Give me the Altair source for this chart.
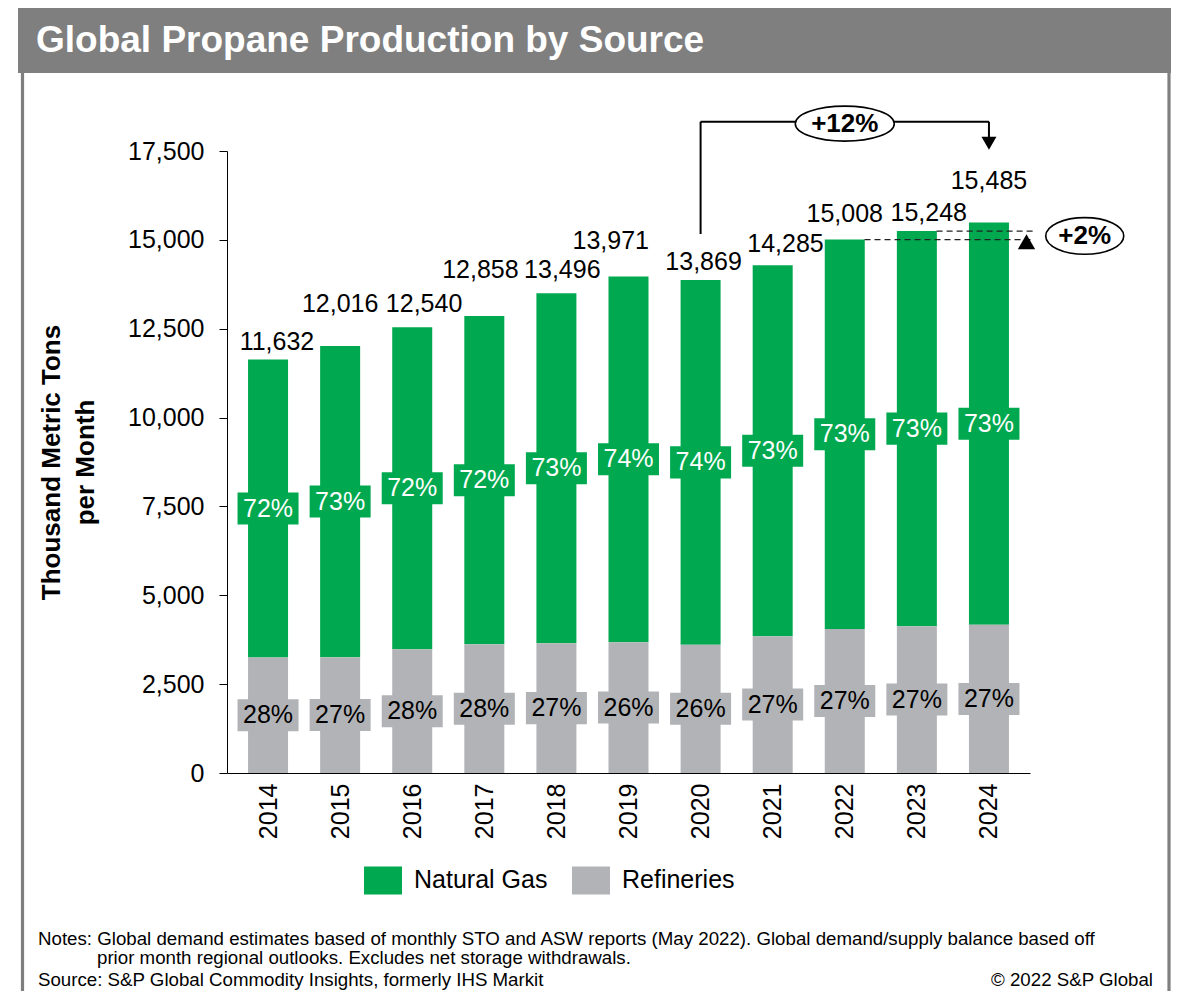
import altair as alt
import pandas as pd

# ---------------- data ----------------
years = [2014, 2015, 2016, 2017, 2018, 2019, 2020, 2021, 2022, 2023, 2024]
totals = [11632, 12016, 12540, 12858, 13496, 13971, 13869, 14285, 15008, 15248, 15485]
refineries = [3250, 3260, 3480, 3620, 3650, 3680, 3610, 3850, 4050, 4130, 4170]
natural_gas = [8382, 8756, 9060, 9238, 9846, 10291, 10259, 10435, 10958, 11118, 11315]
ng_pct = ["72%", "73%", "72%", "72%", "73%", "74%", "74%", "73%", "73%", "73%", "73%"]
ref_pct = ["28%", "27%", "28%", "28%", "27%", "26%", "26%", "27%", "27%", "27%", "27%"]
sources = ["Natural Gas", "Refineries"]
y_ticks = [0, 2500, 5000, 7500, 10000, 12500, 15000, 17500]

# ---------------- layout / style ----------------
FONT = "Liberation Sans"
GREEN = "#00A94F"
GRAY = "#B2B3B6"
FRAME = "#7F7F7F"
W, H = 803, 622
X_DOM = [2013.5, 2024.5]
Y_MAX = 17500
PX_PER_YEAR = W / (X_DOM[1] - X_DOM[0])
UNITS_PER_PX = Y_MAX / H

# manual nudges of the total labels (pixels: right shift, raise above bar top)
label_dx_px = [9, 0, 12, -4, 6, -18, 3, 13, 0, 12, 0]
label_raise_px = [10, 34, 15, 38, 15, 27, 10, 13, 18, 10, 34]

# ---------------- tables ----------------
long_rows = []
seg_rows = []
for i, yr in enumerate(years):
    long_rows.append({"year": yr, "source": "Natural Gas", "value": natural_gas[i]})
    long_rows.append({"year": yr, "source": "Refineries", "value": refineries[i]})
    seg_rows.append({"year": yr, "source": "Refineries", "mid": refineries[i] / 2, "txt": ref_pct[i]})
    seg_rows.append({"year": yr, "source": "Natural Gas", "mid": refineries[i] + natural_gas[i] / 2, "txt": ng_pct[i]})
long_df = pd.DataFrame(long_rows)
seg_df = pd.DataFrame(seg_rows)

tot_df = pd.DataFrame({
    "year": years,
    "total": totals,
    "lbl": [f"{t:,}" for t in totals],
    "lx": [y + dx / PX_PER_YEAR for y, dx in zip(years, label_dx_px)],
    "ly": [t + r * UNITS_PER_PX for t, r in zip(totals, label_raise_px)],
})

xs = alt.Scale(domain=X_DOM, nice=False, zero=False)
ys = alt.Scale(domain=[0, Y_MAX], nice=False, zero=True)
col_scale = alt.Scale(domain=sources, range=[GREEN, GRAY])

x_axis = alt.Axis(values=years, labelExpr="format(datum.value, 'd')", labelAngle=270,
                  labelAlign="right", labelBaseline="middle", ticks=False, labelPadding=10,
                  labelFontSize=25, labelColor="black", domainColor="black", domainWidth=1,
                  grid=False, title="", labelFont=FONT)
y_axis = alt.Axis(values=y_ticks, labelExpr="format(datum.value, ',.0f')", tickSize=8,
                  tickColor="black", tickWidth=1, domainColor="black", domainWidth=1,
                  grid=False, labelFontSize=25, labelColor="black", labelPadding=15,
                  labelFont=FONT, title=["Thousand Metric Tons", "per Month"],
                  titleFontSize=26, titleFontWeight="bold", titleColor="black",
                  titleFont=FONT, titleLineHeight=34, titlePadding=29)


def X(field):
    return alt.X(field, scale=xs, axis=x_axis)


def Y(field, **kw):
    return alt.Y(field, scale=ys, axis=y_axis, **kw)


bars = alt.Chart(long_df).mark_bar(size=40).encode(
    x=X("year:Q"),
    y=Y("value:Q", stack="zero"),
    color=alt.Color("source:N", scale=col_scale, legend=alt.Legend(
        orient="none", legendX=137, legendY=710, direction="horizontal", title=None,
        symbolType="M-1,-0.737L1,-0.737L1,0.737L-1,0.737Z", symbolSize=1444,
        symbolStrokeWidth=0, symbolOpacity=1, labelFontSize=25, labelColor="black",
        labelFont=FONT, labelOffset=12, columnPadding=24, padding=0)),
    order=alt.Order("source:N", sort="descending"),
)

BOX = "M-1,-0.525L1,-0.525L1,0.525L-1,0.525Z"
boxes = alt.Chart(seg_df).mark_point(shape=BOX, size=3721, filled=True, opacity=1,
                                     strokeWidth=0).encode(
    x=X("year:Q"),
    y=Y("mid:Q"),
    color=alt.Color("source:N", scale=col_scale, legend=None),
)
seg_text = alt.Chart(seg_df).mark_text(fontSize=25, font=FONT, baseline="middle",
                                       align="center").encode(
    x=X("year:Q"),
    y=Y("mid:Q"),
    text="txt:N",
    color=alt.condition(alt.datum.source == "Natural Gas", alt.value("white"), alt.value("black")),
)

tot_text = alt.Chart(tot_df).mark_text(fontSize=25, font=FONT, baseline="alphabetic",
                                       align="center", color="black").encode(
    x=X("lx:Q"),
    y=Y("ly:Q"),
    text="lbl:N",
)

# ---------------- annotations (data coordinates) ----------------
BRACKET_LOW = 15165
BRACKET_TOP = 18324
ARROW_BASE = 17866
bracket_df = pd.DataFrame({
    "x": [2020, 2020, 2024], "x2": [2020, 2024, 2024],
    "y": [BRACKET_LOW, BRACKET_TOP, BRACKET_TOP], "y2": [BRACKET_TOP, BRACKET_TOP, ARROW_BASE],
})
bracket = alt.Chart(bracket_df).mark_rule(strokeWidth=2, color="black").encode(
    x=X("x:Q"), x2="x2:Q",
    y=Y("y:Q"), y2="y2:Q",
)
dash_df = pd.DataFrame({
    "x": [2023 + 20 / PX_PER_YEAR, 2022 + 20 / PX_PER_YEAR],
    "x2": [2024 + 46 / PX_PER_YEAR, 2024 + 46 / PX_PER_YEAR],
    "y": [totals[9], totals[8]],
})
dashes = alt.Chart(dash_df).mark_rule(strokeWidth=1.3, color="#222222", strokeDash=[6, 4]).encode(
    x=X("x:Q"), x2="x2:Q",
    y=Y("y:Q"),
)
arrow_down = alt.Chart(pd.DataFrame({"x": [2024], "y": [17716]})).mark_point(
    shape="triangle-down", size=225, filled=True, opacity=1, color="black", strokeWidth=0).encode(
    x=X("x:Q"), y=Y("y:Q"))
arrow_up = alt.Chart(pd.DataFrame({"x": [2024 + 38 / PX_PER_YEAR], "y": [14948]})).mark_point(
    shape="triangle-up", size=300, filled=True, opacity=1, color="black", strokeWidth=0).encode(
    x=X("x:Q"), y=Y("y:Q"))

ell12_df = pd.DataFrame({"x": [2022], "y": [18270], "t": ["+12%"]})
ell2_df = pd.DataFrame({"x": [2024 + 97 / PX_PER_YEAR], "y": [15109], "t": ["+2%"]})
ell12 = alt.Chart(ell12_df).mark_point(
    shape="M-1,0A1,0.354,0,1,1,1,0A1,0.354,0,1,1,-1,0Z", size=9801, filled=False,
    fill="white", fillOpacity=1, opacity=1, stroke="black", strokeWidth=1.6).encode(
    x=X("x:Q"), y=Y("y:Q"))
ell2 = alt.Chart(ell2_df).mark_point(
    shape="M-1,0A1,0.47,0,1,1,1,0A1,0.47,0,1,1,-1,0Z", size=6084, filled=False,
    fill="white", fillOpacity=1, opacity=1, stroke="black", strokeWidth=1.6).encode(
    x=X("x:Q"), y=Y("y:Q"))
ell12_t = alt.Chart(ell12_df).mark_text(fontSize=26, fontWeight="bold", font=FONT,
                                        baseline="middle", color="black").encode(
    x=X("x:Q"), y=Y("y:Q"), text="t:N")
ell2_t = alt.Chart(ell2_df).mark_text(fontSize=26, fontWeight="bold", font=FONT,
                                      baseline="middle", color="black").encode(
    x=X("x:Q"), y=Y("y:Q"), text="t:N")

# ---------------- decorations (pixel positions relative to plot origin) ----------------
one = pd.DataFrame({"a": [0]})
title_bar = alt.Chart(one).mark_rect(color=FRAME).encode(
    x=alt.value(-209), x2=alt.value(944), y=alt.value(-147), y2=alt.value(-78))
border_l = alt.Chart(one).mark_rule(color=FRAME, strokeWidth=3.2).encode(
    x=alt.value(-204.5), y=alt.value(-147), y2=alt.value(900))
border_r = alt.Chart(one).mark_rule(color=FRAME, strokeWidth=3.2).encode(
    x=alt.value(942), y=alt.value(-147), y2=alt.value(900))
title_t = alt.Chart(one).mark_text(text="Global Propane Production by Source", fontSize=37,
                                   fontWeight="bold", font=FONT, color="white",
                                   align="left", baseline="alphabetic").encode(
    x=alt.value(-191), y=alt.value(-99))


def note(txt, x, y, align="left"):
    return alt.Chart(one).mark_text(text=txt, fontSize=18.7, font=FONT, color="black",
                                    align=align, baseline="alphabetic").encode(
        x=alt.value(x), y=alt.value(y))


notes = [
    note("Notes: Global demand estimates based of monthly STO and ASW reports (May 2022). "
         "Global demand/supply balance based off", -189, 794),
    note("prior month regional outlooks. Excludes net storage withdrawals.", -130, 813),
    note("Source: S&P Global Commodity Insights, formerly IHS Markit", -189, 835),
    note("\u00a9 2022 S&P Global", 926, 835, align="right"),
]

chart = alt.layer(
    title_bar, border_l, border_r, title_t,
    bars, boxes, seg_text, tot_text,
    dashes, arrow_up, bracket, arrow_down, ell12, ell2, ell12_t, ell2_t,
    *notes,
).properties(
    width=W, height=H,
    autosize=alt.AutoSizeParams(type="none"),
    padding={"left": 219, "top": 143, "right": 145, "bottom": 218},
    background="white",
).configure(font=FONT).configure_view(strokeWidth=0)

chart.save("out.html", embed_options={"renderer": "svg", "actions": False})
